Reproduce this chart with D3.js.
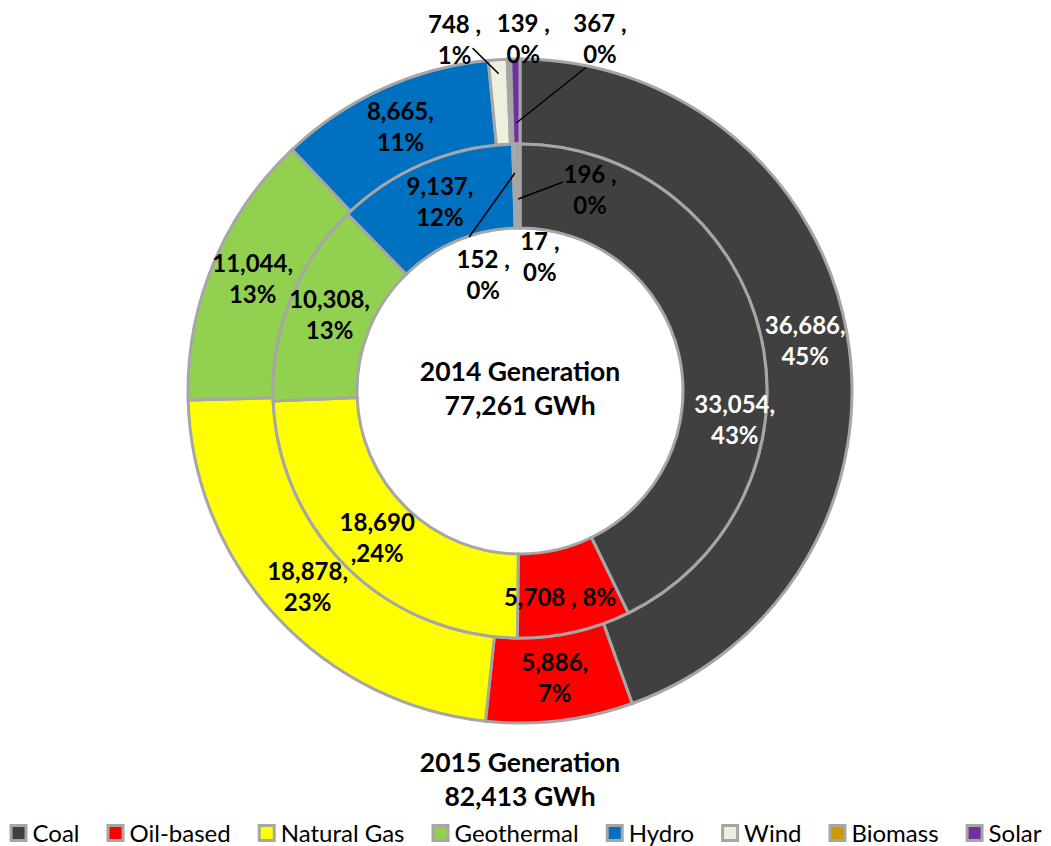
<!DOCTYPE html>
<html>
<head>
<meta charset="utf-8">
<script src="https://cdn.jsdelivr.net/npm/d3@7"></script>
<style>
    body { margin: 0; background: #fff; }
    svg { display: block; font-family: Lato, "Noto Sans", sans-serif; }
</style>
</head>
<body>
<svg id="chart" width="1051" height="846"></svg>
<script>
const categories = ["Coal", "Oil-based", "Natural Gas", "Geothermal", "Hydro", "Wind", "Biomass", "Solar"];
const colors = ["#404040", "#FF0000", "#FFFF00", "#92D050", "#0070C0", "#EBF1DE", "#CC9900", "#7030A0"];
const gen2014 = [33054, 5708, 18690, 10308, 9137, 152, 196, 17];
const gen2015 = [36686, 5886, 18878, 11044, 8665, 748, 139, 367];
const pct2014 = ["43%", "8%", "24%", "13%", "12%", "0%", "0%", "0%"];
const pct2015 = ["45%", "7%", "23%", "13%", "11%", "1%", "0%", "0%"];
const title2014 = ["2014 Generation", "77,261 GWh"];
const title2015 = ["2015 Generation", "82,413 GWh"];

const cx = 520, cy = 391;
const rHole = 163, rMid = 247, rOut = 332;
const borderColor = "#A6A6A6";

// label nudges from the arc centroid (Excel moved a few of them)
const nudge2014 = { "Coal": [15, 76], "Oil-based": [-5, 7], "Wind": [-32, 89], "Biomass": [72, 4], "Solar": [20, 71] };
const nudge2015 = { "Wind": [-46, -62], "Biomass": [13, -62], "Solar": [84, -62] };
// leader lines: radius where the line starts, end offset from label centre
const leader2014 = { "Wind": [218, -14, -38], "Biomass": [192, -27, -8] };
const leader2015 = { "Wind": [318, 18, 8], "Solar": [268, -14, 28] };

const svg = d3.select("#chart");
const fmt = d3.format(",");

const pie = d3.pie().sort(null).value(d => d.value);

function ringData(values, pcts) {
    return values.map((v, i) => ({ name: categories[i], value: v, pct: pcts[i], color: colors[i] }));
}

function labelLines(d, year) {
    const v = fmt(d.data.value);
    if (year === 2014 && d.data.name === "Oil-based") return [v + " , " + d.data.pct];
    if (year === 2014 && d.data.name === "Natural Gas") return [v, "," + d.data.pct];
    if (d.data.value < 1000) return [v + " ,", d.data.pct];
    return [v + ",", d.data.pct];
}

function drawRing(values, pcts, r0, r1, year, nudges, leaders) {
    const arcs = pie(ringData(values, pcts));
    const arc = d3.arc().innerRadius(r0).outerRadius(r1);
    const g = svg.append("g").attr("transform", `translate(${cx},${cy})`);

    g.selectAll("path")
        .data(arcs)
        .join("path")
        .attr("d", arc)
        .attr("fill", d => d.data.color)
        .attr("stroke", borderColor)
        .attr("stroke-width", 3);

    const labels = g.append("g");
    arcs.forEach(d => {
        const c = arc.centroid(d);
        const n = nudges[d.data.name] || [0, 0];
        const lx = c[0] + n[0], ly = c[1] + n[1];
        const lines = labelLines(d, year);
        const lh = 31;
        const t = labels.append("text")
            .attr("text-anchor", "middle")
            .attr("font-weight", "bold")
            .attr("font-size", 24)
            .attr("fill", d.data.name === "Coal" ? "#fff" : "#000");
        lines.forEach((s, i) => {
            t.append("tspan")
                .attr("x", lx)
                .attr("y", ly + (i - (lines.length - 1) / 2) * lh + 8)
                .text(s);
        });

        const ld = leaders[d.data.name];
        if (ld) {
            const a = (d.startAngle + d.endAngle) / 2;
            labels.append("line")
                .attr("x1", ld[0] * Math.sin(a))
                .attr("y1", -ld[0] * Math.cos(a))
                .attr("x2", lx + ld[1])
                .attr("y2", ly + ld[2])
                .attr("stroke", "#000")
                .attr("stroke-width", 1.5);
        }
    });
}

drawRing(gen2015, pct2015, rMid, rOut, 2015, nudge2015, leader2015);
drawRing(gen2014, pct2014, rHole, rMid, 2014, nudge2014, leader2014);

function drawTitle(lines, y) {
    const t = svg.append("text")
        .attr("text-anchor", "middle")
        .attr("font-weight", "bold")
        .attr("font-size", 26.5)
        .attr("fill", "#000");
    lines.forEach((s, i) => {
        t.append("tspan").attr("x", cx).attr("y", y + i * 34).text(s);
    });
}
drawTitle(title2014, 381);
drawTitle(title2015, 772);

// legend
const legend = svg.append("g");
const items = categories.map((name, i) => {
    const g = legend.append("g");
    g.append("rect")
        .attr("x", 1.5).attr("y", 825.5)
        .attr("width", 15).attr("height", 15)
        .attr("fill", colors[i])
        .attr("stroke", borderColor)
        .attr("stroke-width", 3);
    const t = g.append("text")
        .attr("x", 23).attr("y", 842)
        .attr("font-size", 24)
        .attr("fill", "#000")
        .text(name);
    return { g, w: 23 + t.node().getComputedTextLength() };
});
const gap = 27;
const total = d3.sum(items, d => d.w) + gap * (items.length - 1);
let x = 525.5 - total / 2;
items.forEach(it => {
    it.g.attr("transform", `translate(${x},0)`);
    x += it.w + gap;
});
</script>
</body>
</html>
